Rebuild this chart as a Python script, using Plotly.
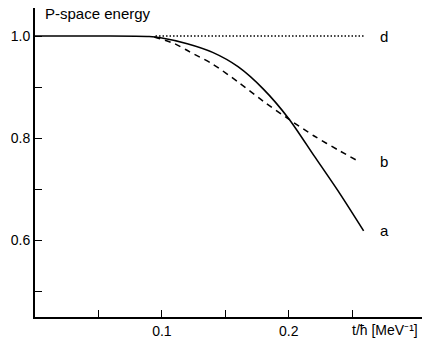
import plotly.graph_objects as go

# curve a (solid)
a_x = [0.0, 0.05, 0.09, 0.10, 0.12, 0.14, 0.16, 0.18, 0.20, 0.22, 0.24, 0.259]
a_y = [1.0, 1.0, 0.999, 0.996, 0.985, 0.968, 0.940, 0.896, 0.838, 0.765, 0.692, 0.618]
# curve b (dashed)
b_x = [0.094, 0.11, 0.122, 0.14, 0.16, 0.18, 0.20, 0.22, 0.24, 0.256]
b_y = [0.998, 0.985, 0.969, 0.945, 0.910, 0.872, 0.837, 0.804, 0.775, 0.753]
# curve d (dotted)
d_x = [0.095, 0.26]
d_y = [1.0, 1.0]

labels = ["a", "b", "d"]
label_x = [0.27, 0.27, 0.27]
label_y = [0.618, 0.753, 1.0]

y_ticks = [0.5, 0.6, 0.7, 0.8, 0.9, 1.0]
y_ticktext = ["", "0.6", "", "0.8", "", "1.0"]
x_ticks = [0.05, 0.1, 0.15, 0.2, 0.25]
x_ticktext = ["", "0.1", "", "0.2", ""]

FONT = "Liberation Sans, Arial"

fig = go.Figure()
fig.add_trace(go.Scatter(x=a_x, y=a_y, mode="lines", line=dict(color="black", width=1.6, shape="spline", smoothing=0.8)))
fig.add_trace(go.Scatter(x=b_x, y=b_y, mode="lines", line=dict(color="black", width=1.5, dash="6px,5px", shape="spline", smoothing=0.8)))
fig.add_trace(go.Scatter(x=d_x, y=d_y, mode="lines", line=dict(color="black", width=1.6, dash="1.5px,2px")))

for t, lx, ly in zip(labels, label_x, label_y):
    fig.add_annotation(x=lx, y=ly, text=t, showarrow=False, xanchor="left", yanchor="middle",
                       font=dict(size=15, color="black", family=FONT))

fig.add_annotation(x=0.0, y=1.055, text="P-space energy", showarrow=False, xanchor="left", yanchor="middle",
                   xshift=8, yshift=-5, font=dict(size=15, color="black", family=FONT))
fig.add_annotation(x=0.2756, y=0.449, text="t/ħ [MeV⁻¹]", showarrow=False, xanchor="center", yanchor="top",
                   yshift=-3, font=dict(size=14, color="black", family=FONT))

fig.update_layout(
    width=424, height=344,
    margin=dict(l=35, r=2, t=8, b=27),
    paper_bgcolor="white", plot_bgcolor="white",
    showlegend=False,
    font=dict(family=FONT, size=14, color="black"),
    xaxis=dict(range=[0, 0.305], tickvals=x_ticks, ticktext=x_ticktext, ticks="inside", ticklen=7,
               tickwidth=1.3, tickcolor="black", showline=True, linecolor="black", linewidth=2,
               showgrid=False, zeroline=False, fixedrange=True),
    yaxis=dict(range=[0.449, 1.055], tickvals=y_ticks, ticktext=y_ticktext, ticks="inside", ticklen=7,
               tickwidth=1.3, tickcolor="black", showline=True, linecolor="black", linewidth=2,
               showgrid=False, zeroline=False, fixedrange=True),
)

fig.write_html("out.html")
